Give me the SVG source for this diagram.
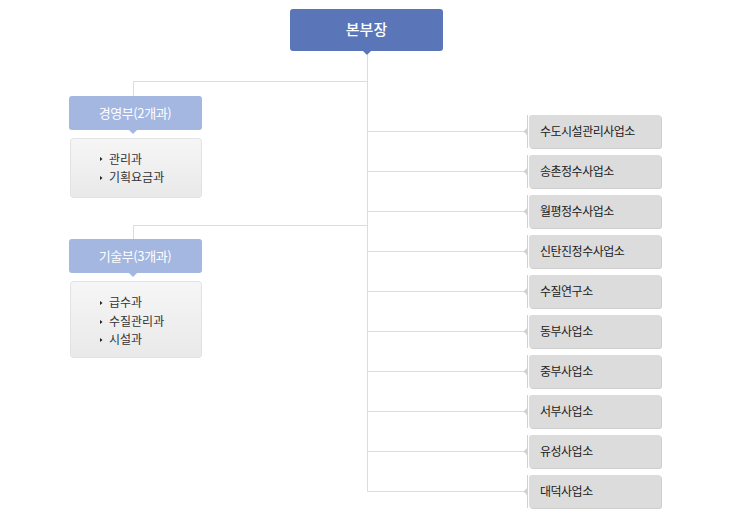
<svg xmlns="http://www.w3.org/2000/svg" width="730" height="516" viewBox="0 0 730 516">
  <defs>
    <linearGradient id="subg" x1="0" y1="0" x2="0" y2="1">
      <stop offset="0" stop-color="#f6f6f6"/>
      <stop offset="1" stop-color="#e9e9e9"/>
    </linearGradient>
    <style>
      .ln{stroke:#dcdcdc;stroke-width:1;fill:none}
      .top{fill:#5a76b8}
      .dept{fill:#a3b7e1}
      .sub{fill:url(#subg);stroke:#e2e2e2;stroke-width:1}
      .off{fill:#dcdcdc}
      .offbar{fill:#d2d2d2}
      .offsh{fill:#cfcfcf}
      .t{font-family:"Noto Sans CJK KR","Noto Sans",sans-serif}
      .tw{fill:#ffffff;text-anchor:middle}
      .ti{fill:#333333;font-size:12px}
      .to{fill:#222222;font-size:12px;letter-spacing:-0.5px}
      .bul{fill:#222222}
    </style>
  </defs>

  <g id="connectors">
    <path class="ln" d="M367.5 55 V491.5"/>
    <path class="ln" d="M133.5 96 V81.5 H367.5"/>
    <path class="ln" d="M133.5 239 V225.5 H367.5"/>
    <path class="ln" d="M367.5 131.5 H526"/>
    <path class="ln" d="M367.5 171.5 H526"/>
    <path class="ln" d="M367.5 211.5 H526"/>
    <path class="ln" d="M367.5 251.5 H526"/>
    <path class="ln" d="M367.5 291.5 H526"/>
    <path class="ln" d="M367.5 331.5 H526"/>
    <path class="ln" d="M367.5 371.5 H526"/>
    <path class="ln" d="M367.5 411.5 H526"/>
    <path class="ln" d="M367.5 451.5 H526"/>
    <path class="ln" d="M367.5 491.5 H526"/>
  </g>

  <g id="head">
    <rect class="top" x="290" y="9" width="153" height="42" rx="3"/>
    <polygon class="top" points="363,51 371,51 367,55"/>
    <text class="t tw" x="366.5" y="35" font-size="15" font-weight="500">본부장</text>
  </g>

  <g id="dept1">
    <rect class="dept" x="69" y="96" width="133" height="34" rx="3"/>
    <polygon class="dept" points="129,130 137,130 133,134"/>
    <text class="t tw" x="135" y="118" font-size="13" letter-spacing="-0.4">경영부(2개과)</text>
  </g>
  <g id="dept1-list">
    <rect class="sub" x="70.5" y="138.5" width="131" height="59" rx="3"/>
    <polygon class="bul" points="100,157 100,161 102.5,159"/>
    <polygon class="bul" points="100,176 100,180 102.5,178"/>
    <text class="t ti" x="109" y="164">관리과</text>
    <text class="t ti" x="109" y="182">기획요금과</text>
  </g>

  <g id="dept2">
    <rect class="dept" x="69" y="239" width="133" height="34" rx="3"/>
    <polygon class="dept" points="129,273 137,273 133,277"/>
    <text class="t tw" x="135" y="261" font-size="13" letter-spacing="-0.4">기술부(3개과)</text>
  </g>
  <g id="dept2-list">
    <rect class="sub" x="70.5" y="281.5" width="131" height="76" rx="3"/>
    <polygon class="bul" points="100,301 100,305 102.5,303"/>
    <polygon class="bul" points="100,320 100,324 102.5,322"/>
    <polygon class="bul" points="100,338 100,342 102.5,340"/>
    <text class="t ti" x="109" y="307">급수과</text>
    <text class="t ti" x="109" y="326">수질관리과</text>
    <text class="t ti" x="109" y="344">시설과</text>
  </g>

  <g id="office1" transform="translate(0,0)">
    <rect class="offsh" x="530" y="116" width="132" height="33" rx="3"/>
    <rect class="off" x="529" y="115" width="132" height="33" rx="3"/>
    <rect class="offbar" x="527" y="115" width="1" height="33"/>
    <polygon class="offbar" points="527,128 527,135 523.5,131.5"/>
    <text class="t to" x="540" y="135.5">수도시설관리사업소</text>
  </g>
  <g id="office2" transform="translate(0,40)">
    <rect class="offsh" x="530" y="116" width="132" height="33" rx="3"/>
    <rect class="off" x="529" y="115" width="132" height="33" rx="3"/>
    <rect class="offbar" x="527" y="115" width="1" height="33"/>
    <polygon class="offbar" points="527,128 527,135 523.5,131.5"/>
    <text class="t to" x="540" y="135.5">송촌정수사업소</text>
  </g>
  <g id="office3" transform="translate(0,80)">
    <rect class="offsh" x="530" y="116" width="132" height="33" rx="3"/>
    <rect class="off" x="529" y="115" width="132" height="33" rx="3"/>
    <rect class="offbar" x="527" y="115" width="1" height="33"/>
    <polygon class="offbar" points="527,128 527,135 523.5,131.5"/>
    <text class="t to" x="540" y="135.5">월평정수사업소</text>
  </g>
  <g id="office4" transform="translate(0,120)">
    <rect class="offsh" x="530" y="116" width="132" height="33" rx="3"/>
    <rect class="off" x="529" y="115" width="132" height="33" rx="3"/>
    <rect class="offbar" x="527" y="115" width="1" height="33"/>
    <polygon class="offbar" points="527,128 527,135 523.5,131.5"/>
    <text class="t to" x="540" y="135.5">신탄진정수사업소</text>
  </g>
  <g id="office5" transform="translate(0,160)">
    <rect class="offsh" x="530" y="116" width="132" height="33" rx="3"/>
    <rect class="off" x="529" y="115" width="132" height="33" rx="3"/>
    <rect class="offbar" x="527" y="115" width="1" height="33"/>
    <polygon class="offbar" points="527,128 527,135 523.5,131.5"/>
    <text class="t to" x="540" y="135.5">수질연구소</text>
  </g>
  <g id="office6" transform="translate(0,200)">
    <rect class="offsh" x="530" y="116" width="132" height="33" rx="3"/>
    <rect class="off" x="529" y="115" width="132" height="33" rx="3"/>
    <rect class="offbar" x="527" y="115" width="1" height="33"/>
    <polygon class="offbar" points="527,128 527,135 523.5,131.5"/>
    <text class="t to" x="540" y="135.5">동부사업소</text>
  </g>
  <g id="office7" transform="translate(0,240)">
    <rect class="offsh" x="530" y="116" width="132" height="33" rx="3"/>
    <rect class="off" x="529" y="115" width="132" height="33" rx="3"/>
    <rect class="offbar" x="527" y="115" width="1" height="33"/>
    <polygon class="offbar" points="527,128 527,135 523.5,131.5"/>
    <text class="t to" x="540" y="135.5">중부사업소</text>
  </g>
  <g id="office8" transform="translate(0,280)">
    <rect class="offsh" x="530" y="116" width="132" height="33" rx="3"/>
    <rect class="off" x="529" y="115" width="132" height="33" rx="3"/>
    <rect class="offbar" x="527" y="115" width="1" height="33"/>
    <polygon class="offbar" points="527,128 527,135 523.5,131.5"/>
    <text class="t to" x="540" y="135.5">서부사업소</text>
  </g>
  <g id="office9" transform="translate(0,320)">
    <rect class="offsh" x="530" y="116" width="132" height="33" rx="3"/>
    <rect class="off" x="529" y="115" width="132" height="33" rx="3"/>
    <rect class="offbar" x="527" y="115" width="1" height="33"/>
    <polygon class="offbar" points="527,128 527,135 523.5,131.5"/>
    <text class="t to" x="540" y="135.5">유성사업소</text>
  </g>
  <g id="office10" transform="translate(0,360)">
    <rect class="offsh" x="530" y="116" width="132" height="33" rx="3"/>
    <rect class="off" x="529" y="115" width="132" height="33" rx="3"/>
    <rect class="offbar" x="527" y="115" width="1" height="33"/>
    <polygon class="offbar" points="527,128 527,135 523.5,131.5"/>
    <text class="t to" x="540" y="135.5">대덕사업소</text>
  </g>
</svg>
